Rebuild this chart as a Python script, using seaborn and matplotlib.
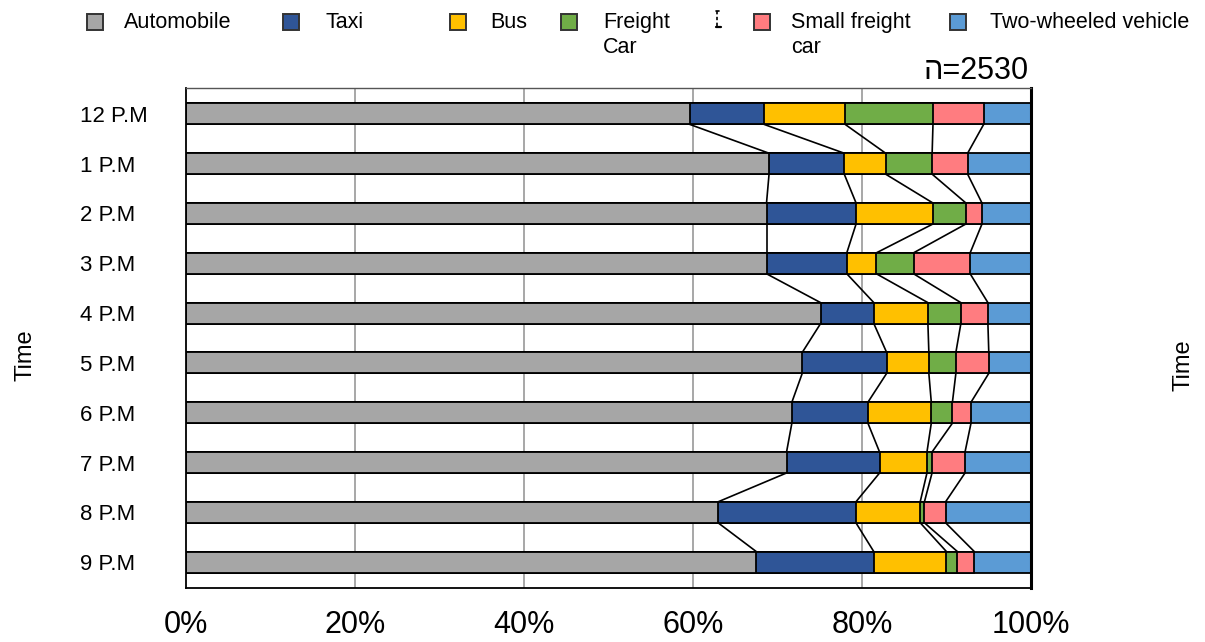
import numpy as np
import pandas as pd
import matplotlib
matplotlib.use("Agg")
import matplotlib.pyplot as plt
from matplotlib.patches import Rectangle
from matplotlib.lines import Line2D
import seaborn as sns

# ---- data -------------------------------------------------------------
times = ["12 P.M", "1 P.M", "2 P.M", "3 P.M", "4 P.M",
         "5 P.M", "6 P.M", "7 P.M", "8 P.M", "9 P.M"]
vehicles = ["Automobile", "Taxi", "Bus", "Freight\nCar",
            "Small freight\ncar", "Two-wheeled vehicle"]
automobile = [59.6, 69.0, 68.7, 68.7, 75.1, 73.0, 71.7, 71.0, 62.9, 67.5]
taxi = [8.8, 8.9, 10.6, 9.5, 6.3, 10.0, 9.0, 11.0, 16.3, 13.9]
bus = [9.6, 4.9, 9.1, 3.5, 6.4, 5.0, 7.5, 5.6, 7.6, 8.6]
freight_car = [10.4, 5.5, 3.9, 4.4, 3.9, 3.2, 2.5, 0.6, 0.5, 1.3]
small_freight = [6.0, 4.2, 1.9, 6.7, 3.2, 3.9, 2.2, 3.9, 2.5, 2.0]
two_wheeled = [5.6, 7.5, 5.8, 7.2, 5.1, 5.0, 7.1, 7.8, 10.1, 6.7]
sample_label = "ה=2530"
xtick_labels = ["0%", "20%", "40%", "60%", "80%", "100%"]

colors = ["#A6A6A6", "#2F5597", "#FFC000", "#70AD47", "#FF7C80", "#5B9BD5"]

# ---- shares and cumulative edges ------------------------------------
counts = np.array([automobile, taxi, bus, freight_car, small_freight, two_wheeled])
shares = counts / counts.sum(axis=0) * 100
cum = np.cumsum(shares, axis=0)          # shape (6, 10)

# ---- figure -----------------------------------------------------------
W, H = 1205, 642
sns.set_theme(style="white")
plt.rcParams["font.family"] = ["Liberation Sans", "DejaVu Sans"]
plt.rcParams["text.color"] = "black"
plt.rcParams["xtick.color"] = "black"
plt.rcParams["ytick.color"] = "black"

fig = plt.figure(figsize=(W / 100, H / 100), dpi=100)
ax = fig.add_axes([186 / W, 1 - 588 / H, (1031 - 186) / W, (588 - 88) / H])

bar_h = 0.42
# draw cumulative totals from the widest down so every segment shows
for k in range(len(vehicles) - 1, -1, -1):
    df = pd.DataFrame({"time": times, "value": cum[k]})
    sns.barplot(data=df, x="value", y="time", order=times, orient="h",
                color=colors[k], saturation=1, edgecolor="black",
                linewidth=1.3, width=bar_h, errorbar=None, ax=ax, zorder=2)

# connector lines between neighbouring bars
for i in range(len(times) - 1):
    for k in range(len(vehicles) - 1):
        ax.add_line(Line2D([cum[k, i], cum[k, i + 1]],
                           [i + bar_h / 2, i + 1 - bar_h / 2],
                           color="black", lw=1.2, zorder=3))

ax.set_xlim(0, 100)
ax.set_ylim(len(times) - 0.48, -0.52)
ax.set_xticks([0, 20, 40, 60, 80, 100])
ax.set_xticklabels(xtick_labels, fontsize=22, color="black")
ax.tick_params(axis="x", length=0, pad=16)
ax.tick_params(axis="y", length=0, pad=76)
for lbl in ax.get_yticklabels():
    lbl.set_horizontalalignment("left")
    lbl.set_fontsize(16)
    lbl.set_color("black")
ax.set_xlabel("")
ax.set_ylabel("")

for x in [20, 40, 60, 80]:
    ax.axvline(x, color="#A0A0A0", lw=1.3, zorder=1)

for side in ["left", "bottom"]:
    ax.spines[side].set_color("black")
    ax.spines[side].set_linewidth(1.3)
ax.spines["right"].set_color("black")
ax.spines["right"].set_linewidth(2.2)
ax.spines["top"].set_color("#555555")
ax.spines["top"].set_linewidth(1.0)

# axis titles on both sides
fig.text(25 / W, 1 - 355 / H, "Time", rotation=90, fontsize=17,
         ha="center", va="center")
fig.text(1183 / W, 1 - 365 / H, "Time", rotation=90, fontsize=17,
         ha="center", va="center")

# sample size
fig.text(1029 / W, 1 - 71 / H, sample_label, fontsize=22,
         ha="right", va="center")

# ---- legend row -------------------------------------------------------
marker_x = [95, 291, 458, 569, 762, 958]
text_x = [124, 326, 490, 603, 791, 990]
sq = 16
for mx, tx, name, c in zip(marker_x, text_x, vehicles, colors):
    fig.patches.append(Rectangle(((mx - sq / 2) / W, 1 - (22 + sq / 2) / H),
                                 sq / W, sq / H, transform=fig.transFigure,
                                 facecolor=c, edgecolor="#333333", lw=1.4))
    fig.text(tx / W, 1 - 12 / H, name, fontsize=15.5, ha="left", va="top",
             linespacing=1.22)

# small stray legend glyph
glyph = [Line2D([717 / W, 717 / W], [1 - 11 / H, 1 - 27 / H],
                transform=fig.transFigure, color="black", lw=1.2,
                linestyle=(0, (2, 1.5))),
         Line2D([715.5 / W, 719 / W], [1 - 11 / H, 1 - 11 / H],
                transform=fig.transFigure, color="black", lw=1.2),
         Line2D([715.5 / W, 721 / W], [1 - 27 / H, 1 - 27 / H],
                transform=fig.transFigure, color="black", lw=1.6)]
for ln in glyph:
    fig.lines.append(ln)

fig.savefig("out.png", dpi=100)
